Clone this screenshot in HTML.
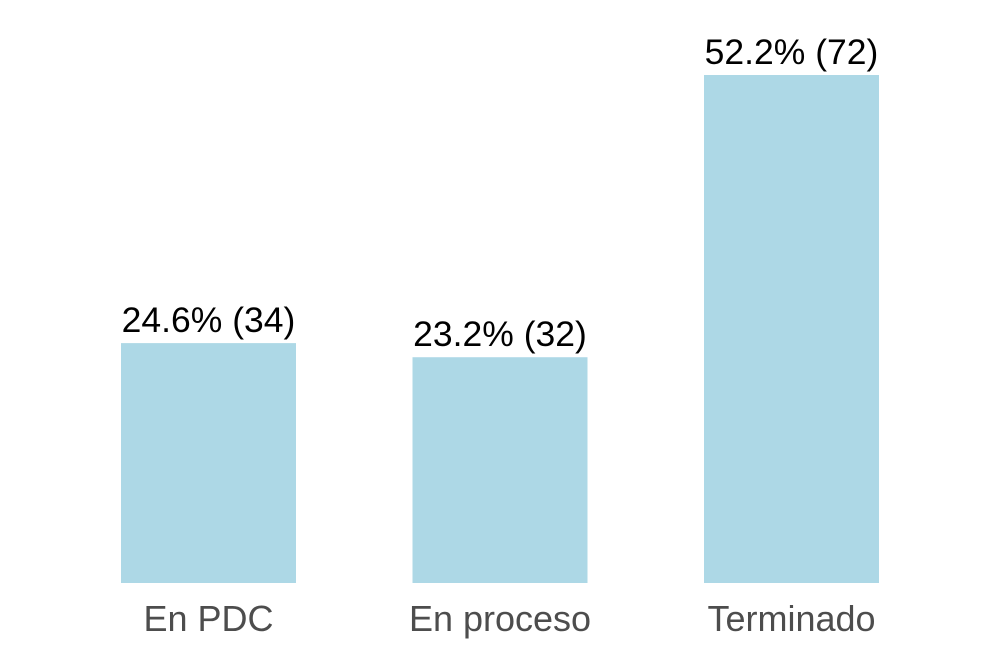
<!DOCTYPE html>
<html><head><meta charset="utf-8"><style>
body{margin:0;background:#fff;}
svg{display:block;font-family:"Liberation Sans",Arial,sans-serif;}
</style></head><body>
<svg id="chart" width="990" height="660" viewBox="0 0 990 660"></svg>
<script>
const categories = ["En PDC", "En proceso", "Terminado"];
const counts = [34, 32, 72];
const percentLabels = ["24.6%", "23.2%", "52.2%"];

const svg = document.getElementById('chart');
const NS = 'http://www.w3.org/2000/svg';
const baseY = 583, pxPerUnit = 508 / 72;
const x0 = 121, step = 291.5, barW = 175;
function yScale(v){ return baseY - v * pxPerUnit; }
function xScale(i){ return x0 + i * step; }

categories.forEach((c, i) => {
  const r = document.createElementNS(NS, 'rect');
  
  
  r.setAttribute('x', xScale(i));
  r.setAttribute('y', yScale(counts[i]));
  r.setAttribute('width', barW);
  r.setAttribute('height', baseY - yScale(counts[i]));
  r.setAttribute('fill', '#ADD8E6');
  svg.appendChild(r);

  const t = document.createElementNS(NS, 'text');
  
  
  t.setAttribute('x', xScale(i) + barW / 2);
  t.setAttribute('y', yScale(counts[i]) - 11);
  t.setAttribute('text-anchor', 'middle');
  t.setAttribute('font-size', '35.5');
  t.setAttribute('fill', '#000');
  t.textContent = percentLabels[i] + ' (' + counts[i] + ')';
  svg.appendChild(t);

  const l = document.createElementNS(NS, 'text');
  
  
  l.setAttribute('x', xScale(i) + barW / 2);
  l.setAttribute('y', 631);
  l.setAttribute('text-anchor', 'middle');
  l.setAttribute('font-size', '36');
  l.setAttribute('fill', '#4d4d4d');
  l.textContent = c;
  svg.appendChild(l);
});
</script>
</body></html>
